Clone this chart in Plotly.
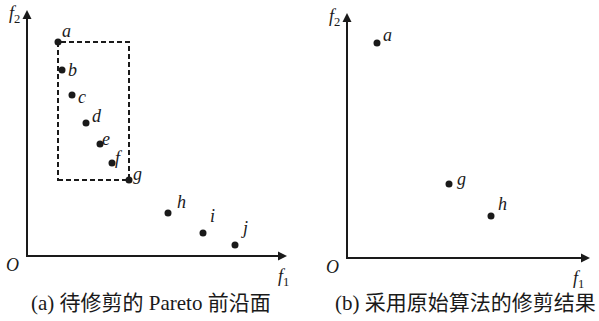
import plotly.graph_objects as go

# ---------------- data ----------------
point_names = ["a", "b", "c", "d", "e", "f", "g", "h", "i", "j"]
front_f1 = [3.1, 3.5, 4.5, 5.9, 7.3, 8.5, 10.2, 14.1, 17.6, 20.8]
front_f2 = [21.4, 18.6, 16.1, 13.3, 11.2, 9.3, 7.6, 4.3, 2.3, 1.1]

kept_names = ["a", "g", "h"]
kept_f1 = [3.0, 10.2, 14.4]
kept_f2 = [21.5, 7.4, 4.2]

caption_a = "(a) 待修剪的 Pareto 前沿面"
caption_b = "(b) 采用原始算法的修剪结果"

# ---------------- styling ----------------
W, H = 599, 321
INK = "#1a1a1a"
SERIF = "Liberation Serif, Times New Roman, serif"
CAP_FONT = "Liberation Serif, Noto Sans CJK SC, serif"

# label offsets (pixels) relative to each point
front_label_shift = {
    "a": (8, 11), "b": (10, 0), "c": (10, -2), "d": (11, 7), "e": (6, 5),
    "f": (7, 5), "g": (8, 6), "h": (13, 11), "i": (9, 17), "j": (9, 17),
}
kept_label_shift = {"a": (10, 8), "g": (12, 5), "h": (11, 12)}

fig = go.Figure()

fig.add_trace(go.Scatter(
    x=front_f1, y=front_f2, mode="markers",
    marker=dict(size=7, color=INK), xaxis="x", yaxis="y", hoverinfo="skip",
))
fig.add_trace(go.Scatter(
    x=kept_f1, y=kept_f2, mode="markers",
    marker=dict(size=7, color=INK), xaxis="x2", yaxis="y2", hoverinfo="skip",
))

annotations = []
for n, x, y in zip(point_names, front_f1, front_f2):
    dx, dy = front_label_shift[n]
    annotations.append(dict(x=x, y=y, xref="x", yref="y", text=n, showarrow=False,
                            xshift=dx, yshift=dy,
                            font=dict(family=SERIF, size=18, color=INK, style="italic")))
for n, x, y in zip(kept_names, kept_f1, kept_f2):
    dx, dy = kept_label_shift[n]
    annotations.append(dict(x=x, y=y, xref="x2", yref="y2", text=n, showarrow=False,
                            xshift=dx, yshift=dy,
                            font=dict(family=SERIF, size=18, color=INK, style="italic")))

shapes = []
# axes with arrows: (x tip, y tip, f1 label x-shift)
axis_ends = {("x", "y"): (26.0, 24.6, -4), ("x2", "y2"): (24.3, 24.5, -12)}
for (xr, yr), (xt, yt, f1dx) in axis_ends.items():
    shapes.append(dict(type="line", xref=xr, yref=yr, x0=-0.1, y0=0, x1=xt - 0.5, y1=0,
                       line=dict(color=INK, width=2)))
    shapes.append(dict(type="line", xref=xr, yref=yr, x0=0, y0=-0.1, x1=0, y1=yt - 0.5,
                       line=dict(color=INK, width=2)))
    fig.add_trace(go.Scatter(
        x=[xt, 0], y=[0, yt], mode="markers", xaxis=xr, yaxis=yr, hoverinfo="skip",
        marker=dict(symbol=["arrow-right", "arrow-up"], size=9, color=INK,
                    line=dict(width=0)),
    ))
    annotations.append(dict(x=0, y=yt, xref=xr, yref=yr, text="<i>f</i><sub>2</sub>",
                            showarrow=False, xshift=-13, yshift=-4,
                            font=dict(family=SERIF, size=18, color=INK)))
    annotations.append(dict(x=0, y=0, xref=xr, yref=yr, text="O",
                            showarrow=False, xshift=-15, yshift=-9,
                            font=dict(family=SERIF, size=18, color=INK, style="italic")))
    annotations.append(dict(x=xt, y=0, xref=xr, yref=yr, text="<i>f</i><sub>1</sub>",
                            showarrow=False, xshift=f1dx, yshift=-21,
                            font=dict(family=SERIF, size=18, color=INK)))

annotations.append(dict(x=150.5 / W, y=1 - 303 / H, xref="paper", yref="paper",
                        xanchor="center", yanchor="middle",
                        text=caption_a, showarrow=False,
                        font=dict(family=CAP_FONT, size=21, color=INK)))
annotations.append(dict(x=465 / W, y=1 - 303 / H, xref="paper", yref="paper",
                        xanchor="center", yanchor="middle",
                        text=caption_b, showarrow=False,
                        font=dict(family=CAP_FONT, size=21, color=INK)))

# dashed box spanning from point a to point g
ia, ig = point_names.index("a"), point_names.index("g")
shapes.append(dict(type="rect", xref="x", yref="y",
                   x0=front_f1[ia], x1=front_f1[ig], y0=front_f2[ig], y1=front_f2[ia],
                   line=dict(color=INK, width=2, dash="5px,3px"), layer="below"))

hidden = dict(visible=False, showgrid=False, zeroline=False, fixedrange=True)
fig.update_layout(
    width=W, height=H, margin=dict(l=0, r=0, t=0, b=0),
    paper_bgcolor="white", plot_bgcolor="white", showlegend=False,
    xaxis=dict(domain=[0, 300 / W], range=[-2.7, 27.3], anchor="y", **hidden),
    yaxis=dict(domain=[0, 1], range=[-6.5, 25.6], anchor="x", **hidden),
    xaxis2=dict(domain=[300 / W, 1], range=[-4.7, 25.2], anchor="y2", **hidden),
    yaxis2=dict(domain=[0, 1], range=[-6.3, 25.8], anchor="x2", **hidden),
    annotations=annotations, shapes=shapes,
)

post = "document.body.style.margin = '0'; document.body.style.padding = '0';"
fig.write_html("out.html", post_script=post, config={"displayModeBar": False})
